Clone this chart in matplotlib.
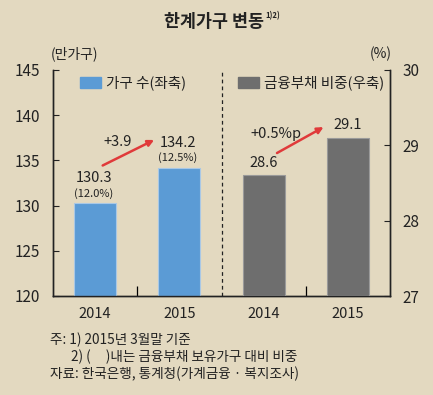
import matplotlib
matplotlib.use("Agg")
import matplotlib.pyplot as plt
from matplotlib.patches import Patch

plt.rcParams['font.family'] = ['Noto Sans CJK KR', 'DejaVu Sans']

years = ['2014', '2015']
households = [130.3, 134.2]          # 만가구 (left axis)
household_share = ['(12.0%)', '(12.5%)']
debt_ratio = [28.6, 29.1]            # % (right axis)
household_diff = '+3.9'
ratio_diff = '+0.5%p'

bg = '#E3D9C0'
blue = '#5B9BD5'
gray = '#6E6E6E'
red = '#E03A3A'

fig = plt.figure(figsize=(4.33, 3.95), dpi=100, facecolor=bg)
ax = fig.add_axes([53/433, 1 - 296/395, 337/433, 226/395])
ax.set_facecolor(bg)
ax2 = ax.twinx()

x_left = [0, 1]
x_right = [2, 3]
ax.bar(x_left, [v - 120 for v in households], bottom=120, width=0.5,
       color=blue, edgecolor='#A9C8E6', linewidth=0.8, zorder=3)
ax2.bar(x_right, [v - 27 for v in debt_ratio], bottom=27, width=0.5,
        color=gray, edgecolor='#9A9A9A', linewidth=0.8, zorder=3)

ax.set_xlim(-0.5, 3.5)
ax.set_ylim(120, 145)
ax2.set_ylim(27, 30)
ax.set_yticks([120, 125, 130, 135, 140, 145])
ax2.set_yticks([27, 28, 29, 30])

ax.set_xticks(x_left + x_right)
ax.set_xticklabels(years + years)
ax.set_xticks([0.5, 2.5], minor=True)
ax.tick_params(axis='x', which='major', length=0, pad=8, labelsize=10.5, colors='#222222')
ax.tick_params(axis='x', which='minor', length=7, direction='in', width=0.9)
ax.tick_params(axis='y', direction='in', length=4, pad=9, labelsize=11, colors='#222222')
ax2.tick_params(axis='y', direction='in', length=4, pad=9, labelsize=11, colors='#222222')

for a in (ax, ax2):
    a.spines['top'].set_visible(False)
    for s in ('left', 'right', 'bottom'):
        a.spines[s].set_linewidth(1.0)
        a.spines[s].set_color('#222222')

ax.axvline(1.5, color='#222222', linestyle=(0, (3, 2.5)), linewidth=0.9)

# value labels
for x, v, s in zip(x_left, households, household_share):
    ax.annotate(f'{v:.1f}', (x, v), xytext=(-1, 18), textcoords='offset points',
                ha='center', va='center', fontsize=10.5, color='#222222')
    ax.annotate(s, (x, v), xytext=(-1, 7), textcoords='offset points',
                ha='center', va='center', fontsize=8, color='#222222')
for x, v in zip(x_right, debt_ratio):
    ax2.annotate(f'{v:.1f}', (x, v), xytext=(0, 9), textcoords='offset points',
                 ha='center', va='center', fontsize=10.5, color='#222222')

# change arrows
ax.annotate('', xy=(x_left[1] - 0.27, households[1] + 3.2),
            xytext=(x_left[0] + 0.06, households[0] + 4.0),
            arrowprops=dict(arrowstyle='-|>', color=red, lw=1.8, mutation_scale=9))
ax.text(0.27, 137.0, household_diff, ha='center', va='center', fontsize=10.5, color='#222222')
ax2.annotate('', xy=(x_right[1] - 0.26, debt_ratio[1] + 0.16),
             xytext=(x_right[0] + 0.13, debt_ratio[0] + 0.28),
             arrowprops=dict(arrowstyle='-|>', color=red, lw=1.8, mutation_scale=9))
ax2.text(2.15, 29.15, ratio_diff, ha='center', va='center', fontsize=10.5, color='#222222')

# legends
leg1 = ax.legend(handles=[Patch(color=blue, label='가구 수(좌축)')],
                 loc='center left', bbox_to_anchor=(0.08, 0.942), frameon=False,
                 borderpad=0, borderaxespad=0, handlelength=1.45, handleheight=0.75,
                 handletextpad=0.35, fontsize=10.5, labelcolor='#222222')
ax.add_artist(leg1)
ax.legend(handles=[Patch(color=gray, label='금융부채 비중(우축)')],
          loc='center left', bbox_to_anchor=(0.549, 0.942), frameon=False,
          borderpad=0, borderaxespad=0, handlelength=1.45, handleheight=0.75,
          handletextpad=0.35, fontsize=10.5, labelcolor='#222222')

# units
fig.text(75/433, 1 - 54/395, '(만가구)', ha='center', va='center', fontsize=10, color='#222222')
fig.text(381/433, 1 - 54/395, '(%)', ha='center', va='center', fontsize=10, color='#222222')

# title
title = fig.text(214/433, 1 - 22/395, '한계가구 변동', ha='center', va='center',
                 fontsize=12.5, fontweight='bold', color='#222222')
ax.annotate('1)2)', xy=(1, 0.85), xycoords=title, xytext=(1, 0), textcoords='offset points',
            ha='left', va='center', fontsize=5.5, fontweight='bold', color='#222222',
            annotation_clip=False)

# footnotes
fig.text(50/433, 1 - 340/395, '주: 1) 2015년 3월말 기준', ha='left', va='center', fontsize=9.8, color='#222222')
fig.text(71/433, 1 - 357/395, '2) (     )내는 금융부채 보유가구 대비 비중', ha='left', va='center', fontsize=9.8, color='#222222')
fig.text(50/433, 1 - 374/395, '자료: 한국은행, 통계청(가계금융 · 복지조사)', ha='left', va='center', fontsize=9.8, color='#222222')

fig.savefig('out.png', dpi=100, facecolor=bg)
